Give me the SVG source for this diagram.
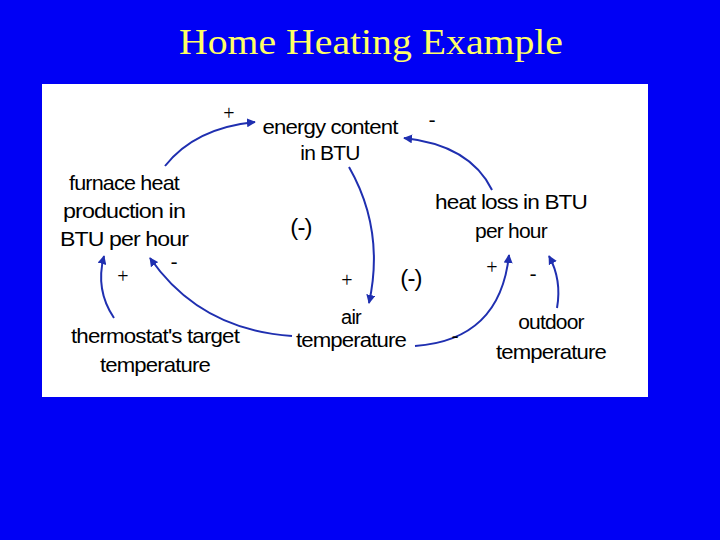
<svg xmlns="http://www.w3.org/2000/svg" width="720" height="540" viewBox="0 0 720 540">
<style>
.t{font-family:"Liberation Sans",Arial,sans-serif;font-size:21px;fill:#000;text-anchor:middle;letter-spacing:-0.8px}
.s{font-family:"Liberation Serif",serif;font-size:20px;fill:#000;text-anchor:middle}
.c{fill:none;stroke:#1f2fb0;stroke-width:2;marker-end:url(#a)}
</style>
<defs><marker id="a" viewBox="0 0 10 10" refX="9" refY="5" markerWidth="9" markerHeight="9" orient="auto" markerUnits="userSpaceOnUse"><path d="M0,0 L10,5 L0,10 z" fill="#1f2fb0"/></marker></defs>
<rect width="720" height="540" fill="#0000f5"/>
<text x="371" y="54" font-family="Liberation Serif,serif" font-size="36" fill="#ffff66" text-anchor="middle" textLength="384" lengthAdjust="spacingAndGlyphs">Home Heating Example</text>
<rect x="42" y="84" width="606" height="313" fill="#fff"/>
<g id="energy"><text class="t" x="330" y="134" textLength="135" lengthAdjust="spacingAndGlyphs">energy content</text><text class="t" x="330" y="160">in BTU</text></g>
<g id="furnace"><text class="t" x="124" y="190" textLength="110" lengthAdjust="spacingAndGlyphs">furnace heat</text><text class="t" x="124" y="218" textLength="122" lengthAdjust="spacingAndGlyphs">production in</text><text class="t" x="124" y="246" textLength="128" lengthAdjust="spacingAndGlyphs">BTU per hour</text></g>
<g id="heatloss"><text class="t" x="511" y="209" textLength="152" lengthAdjust="spacingAndGlyphs">heat loss in BTU</text><text class="t" x="511" y="238">per hour</text></g>
<g id="air"><text class="t" x="351" y="324" style="font-size:20px">air</text><text class="t" x="351" y="347" style="font-size:20px" textLength="110" lengthAdjust="spacingAndGlyphs">temperature</text></g>
<g id="thermo"><text class="t" x="155" y="343" textLength="168" lengthAdjust="spacingAndGlyphs">thermostat's target</text><text class="t" x="155" y="372" textLength="110" lengthAdjust="spacingAndGlyphs">temperature</text></g>
<g id="outdoor"><text class="t" x="551" y="329">outdoor</text><text class="t" x="551" y="359" textLength="110" lengthAdjust="spacingAndGlyphs">temperature</text></g>
<g id="connectors">
<path class="c" d="M165,166 Q195,128 255,122"/>
<path class="c" d="M492,190 Q470,145 404,138"/>
<path class="c" d="M349,167 Q385,230 369,303"/>
<path class="c" d="M292,336 Q200,330 150,258"/>
<path class="c" d="M114,318 Q95,290 104,256"/>
<path class="c" d="M415,346 Q500,340 509,255"/>
<path class="c" d="M557,308 Q562,280 549,256"/>
</g>
<g id="labels">
<text class="s" x="229" y="120">+</text><text class="s" x="432" y="126">-</text>
<text class="s" x="123" y="283">+</text><text class="s" x="174" y="268">-</text>
<text class="s" x="347" y="287">+</text><text class="s" x="455" y="342" font-size="14">-</text>
<text class="s" x="492" y="274">+</text><text class="s" x="533" y="280">-</text>
<text class="t" x="301" y="235" style="font-size:24px">(-)</text>
<text class="t" x="411" y="286" style="font-size:24px">(-)</text>
</g>
</svg>
